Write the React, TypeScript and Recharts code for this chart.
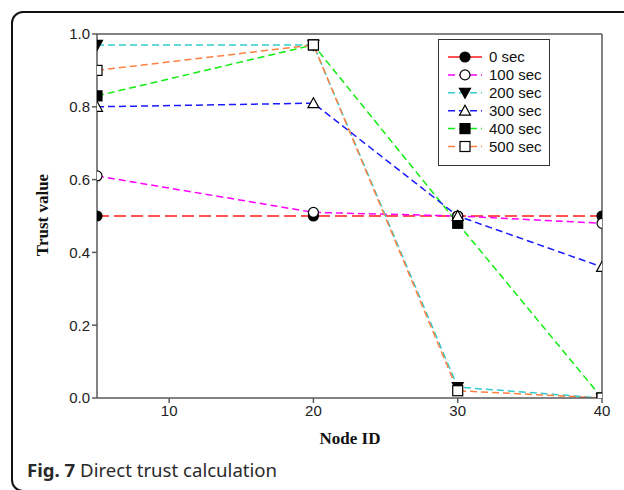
import React from 'react';
import { LineChart, Line, XAxis, YAxis, Legend, ReferenceLine } from 'recharts';

const nodeIds = [5, 20, 30, 40];
const seriesNames = ['0 sec', '100 sec', '200 sec', '300 sec', '400 sec', '500 sec'];
const sec0 = [0.5, 0.5, 0.5, 0.5];
const sec100 = [0.61, 0.51, 0.5, 0.48];
const sec200 = [0.97, 0.97, 0.03, 0.0];
const sec300 = [0.8, 0.81, 0.5, 0.36];
const sec400 = [0.83, 0.97, 0.48, 0.0];
const sec500 = [0.9, 0.97, 0.02, 0.0];
const xTicks = [10, 20, 30, 40];
const yTicks = [0, 0.2, 0.4, 0.6, 0.8, 1.0];

const seriesValues = [sec0, sec100, sec200, sec300, sec400, sec500];
const colors = ['#ff1a1a', '#ff00ff', '#33cccc', '#1a1aff', '#11ee11', '#ff8040'];
const markers = ['circleFilled', 'circleOpen', 'triDownFilled', 'triUpOpen', 'squareFilled', 'squareOpen'];
const dashes = ['12 5', '7 4', '7 4', '7 4', '7 4', '7 4'];
const drawOrder = [0, 1, 2, 4, 3, 5];

const rows = nodeIds.map((n, i) => {
  const r: any = { node: n };
  seriesNames.forEach((s, k) => { r[s] = seriesValues[k][i]; });
  return r;
});

function Marker({ cx, cy, kind }: { cx: number; cy: number; kind: string }) {
  const s = 5;
  const sw = 1.2;
  switch (kind) {
    case 'circleFilled':
      return <circle cx={cx} cy={cy} r={5} fill="#000" stroke="#000" strokeWidth={sw} />;
    case 'circleOpen':
      return <circle cx={cx} cy={cy} r={5} fill="#fff" stroke="#000" strokeWidth={sw} />;
    case 'triDownFilled':
      return <polygon points={`${cx - 5.5},${cy - 4.5} ${cx + 5.5},${cy - 4.5} ${cx},${cy + 5.5}`} fill="#000" stroke="#000" strokeWidth={sw} />;
    case 'triUpOpen':
      return <polygon points={`${cx - 5.5},${cy + 4.5} ${cx + 5.5},${cy + 4.5} ${cx},${cy - 5.5}`} fill="#fff" stroke="#000" strokeWidth={sw} />;
    case 'squareFilled':
      return <rect x={cx - s} y={cy - s} width={2 * s} height={2 * s} fill="#000" stroke="#000" strokeWidth={sw} />;
    default:
      return <rect x={cx - s} y={cy - s} width={2 * s} height={2 * s} fill="#fff" stroke="#000" strokeWidth={sw} />;
  }
}

function LegendBox() {
  return (
    <svg width={112} height={127} style={{ display: 'block' }}>
      <rect x={0.5} y={0.5} width={111} height={126} fill="#fff" stroke="#333" strokeWidth={1} />
      {seriesNames.map((name, k) => {
        const y = 18 + k * 17.9;
        return (
          <g key={name}>
            <line x1={10} x2={44} y1={y} y2={y} stroke={colors[k]} strokeWidth={1.5} strokeDasharray={k === 0 ? undefined : '7 4'} />
            <Marker cx={27} cy={y} kind={markers[k]} />
            <text x={51} y={y + 5} fontFamily="Liberation Sans, Arial, sans-serif" fontSize={15} fill="#111">{name}</text>
          </g>
        );
      })}
    </svg>
  );
}

export default function App() {
  const axisStroke = '#5a5a5a';
  const tickStyle = { fontFamily: 'Liberation Sans, Arial, sans-serif', fontSize: 15, fill: '#222' };
  return (
    <div style={{ position: 'absolute', left: 0, top: 0, width: 624, height: 490, background: '#fff', overflow: 'hidden' }}>
      <div style={{ position: 'absolute', left: 11, top: 11, width: 720, height: 477, border: '2px solid #111', borderRadius: 12 }} />
      <div style={{ position: 'absolute', left: 0, top: 0 }}>
        <LineChart width={624} height={490} data={rows} margin={{ top: 34, right: 22, bottom: 62, left: 57 }}>
          <XAxis
            dataKey="node"
            type="number"
            domain={[5, 40]}
            ticks={xTicks}
            allowDataOverflow
            height={30}
            stroke={axisStroke}
            strokeWidth={1.5}
            tickSize={5}
            tick={tickStyle}
            label={{
              content: () => (
                <text x={350} y={444} textAnchor="middle" fontFamily="Liberation Serif, Times New Roman, serif" fontWeight="bold" fontSize={17} fill="#111">Node ID</text>
              ),
            }}
          />
          <YAxis
            type="number"
            domain={[0, 1]}
            ticks={yTicks}
            allowDataOverflow
            width={40}
            stroke={axisStroke}
            strokeWidth={1.5}
            tickSize={5}
            tick={tickStyle}
            tickFormatter={(v: number) => v.toFixed(1)}
            label={{
              content: () => (
                <text x={48} y={215} transform="rotate(-90 48 215)" textAnchor="middle" fontFamily="Liberation Serif, Times New Roman, serif" fontWeight="bold" fontSize={17} fill="#111">Trust value</text>
              ),
            }}
          />
          <ReferenceLine y={1} stroke={axisStroke} strokeWidth={1.5} />
          <ReferenceLine x={40} stroke={axisStroke} strokeWidth={1.5} />
          {drawOrder.map((k) => (
            <Line
              key={seriesNames[k]}
              dataKey={seriesNames[k]}
              type="linear"
              stroke={colors[k]}
              strokeWidth={1.5}
              strokeDasharray={dashes[k]}
              isAnimationActive={false}
              dot={(p: any) => <Marker key={`${seriesNames[k]}-${p.index}`} cx={p.cx} cy={p.cy} kind={markers[k]} />}
              activeDot={false}
            />
          ))}
          <Legend
            layout="vertical"
            align="center"
            verticalAlign="middle"
            wrapperStyle={{ left: 438, top: 39, width: 112, height: 127 }}
            content={() => <LegendBox />}
          />
        </LineChart>
      </div>
      <div style={{ position: 'absolute', left: 27, top: 457, fontFamily: 'Noto Sans, sans-serif', fontSize: 18.6, color: '#2a2a2a', whiteSpace: 'nowrap' }}>
        <b>Fig. 7</b> Direct trust calculation
      </div>
    </div>
  );
}
